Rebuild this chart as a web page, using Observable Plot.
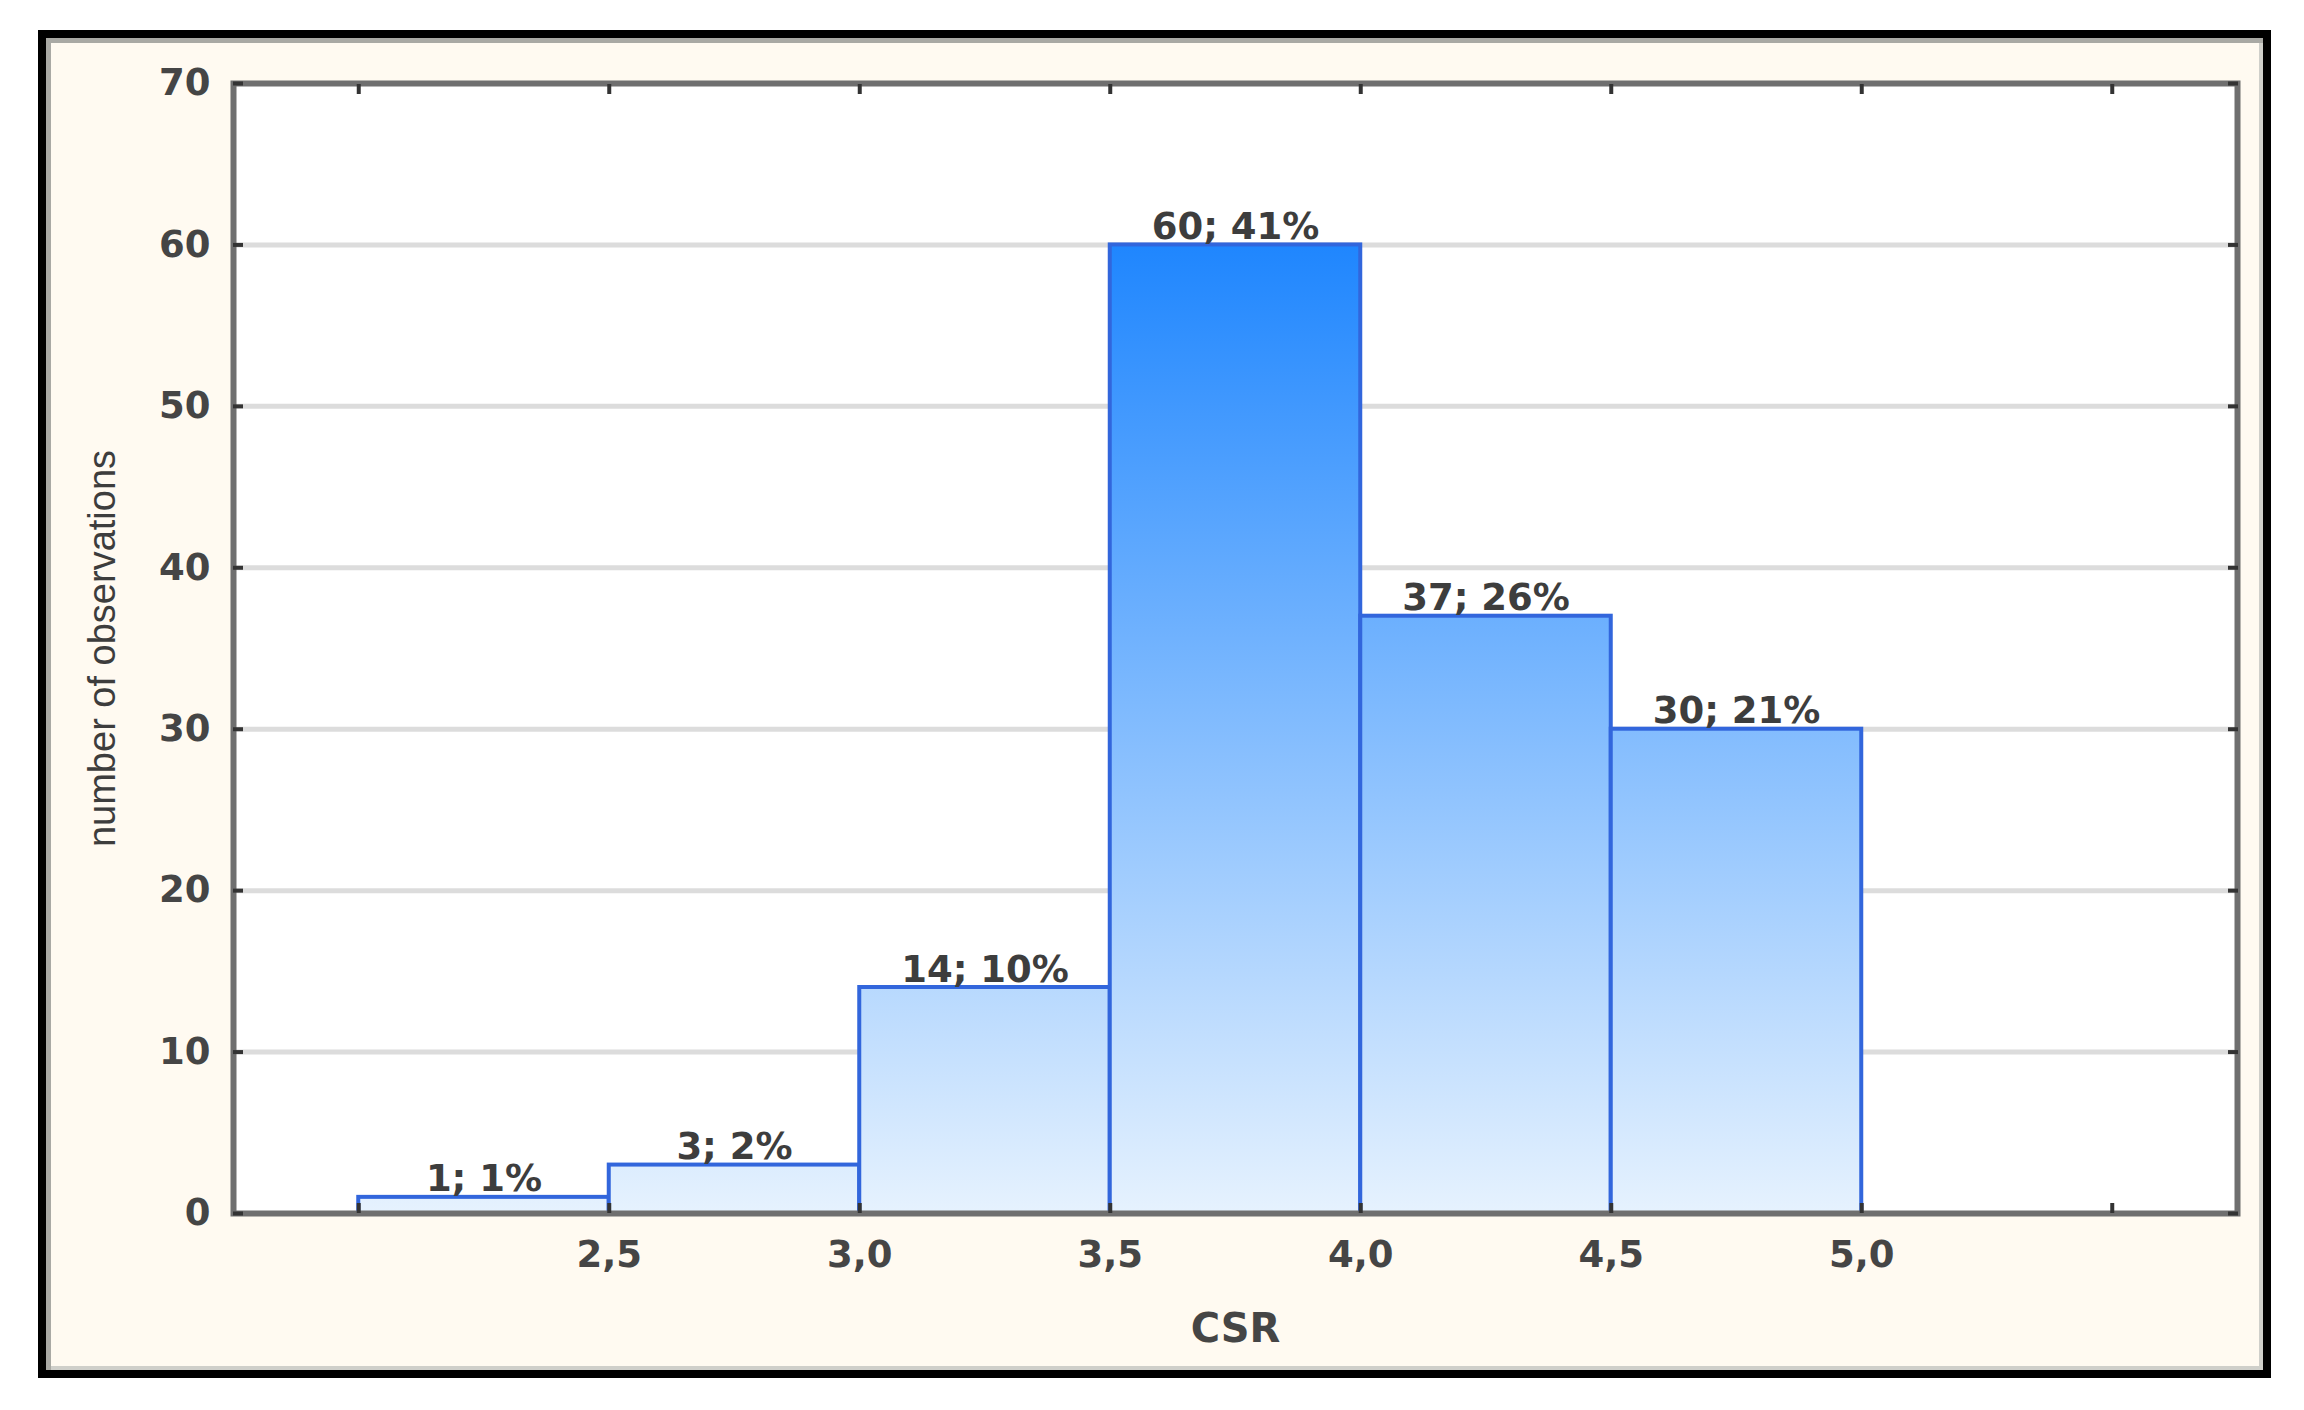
<!DOCTYPE html>
<html>
<head>
<meta charset="utf-8">
<script src="https://cdn.jsdelivr.net/npm/d3@7"></script>
<script src="https://cdn.jsdelivr.net/npm/@observablehq/plot@0.6"></script>
<style>
  html, body { margin: 0; padding: 0; background: #ffffff; width: 2304px; height: 1410px; overflow: hidden; }
  #panel {
    position: absolute; left: 38px; top: 30px; width: 2233px; height: 1348px;
    box-sizing: border-box; border: 8px solid #000;
    background: #fffaf1;
    box-shadow: inset 5px 5px 0 0 #a9a9a4, inset -4px -4px 0 0 #cfcfca;
  }
  #chart { position: absolute; left: 0; top: 0; }
</style>
</head>
<body>
<div id="panel"></div>
<div id="chart"></div>
<script>
// ---- data ----
const binStart = [2.0, 2.5, 3.0, 3.5, 4.0, 4.5];
const binEnd   = [2.5, 3.0, 3.5, 4.0, 4.5, 5.0];
const counts   = [1, 3, 14, 60, 37, 30];
const barLabels = ["1; 1%", "3; 2%", "14; 10%", "60; 41%", "37; 26%", "30; 21%"];
const xTickLabels = [2.5, 3.0, 3.5, 4.0, 4.5, 5.0];
const xTickMarks  = [2.0, 2.5, 3.0, 3.5, 4.0, 4.5, 5.0, 5.5];
const yTicks = [0, 10, 20, 30, 40, 50, 60, 70];
const xTitle = "CSR";
const yTitle = "number of observations";

const bars = binStart.map((s, i) => ({x1: s, x2: binEnd[i], count: counts[i], label: barLabels[i]}));
const fmt = d => d.toFixed(1).replace(".", ",");
const FONT = "DejaVu Sans";

const chart = Plot.plot({
  width: 2304,
  height: 1410,
  marginLeft: 233,
  marginRight: 67,
  marginTop: 83,
  marginBottom: 197,
  style: {background: "transparent", fontFamily: FONT},
  x: {domain: [1.75, 5.75]},
  y: {domain: [0, 70]},
  marks: [
    Plot.frame({fill: "#ffffff", stroke: null}),
    Plot.gridY(yTicks.slice(1, -1), {stroke: "#dcdcdc", strokeOpacity: 1, strokeWidth: 5}),
    Plot.rectY(bars, {x1: "x1", x2: "x2", y: "count", fill: "url(#csrGrad)", stroke: "#3266dc", strokeWidth: 4}),
    Plot.text(bars, {x: d => (d.x1 + d.x2) / 2, y: "count", text: "label", lineAnchor: "bottom", dy: -6,
      fontSize: 37, fontWeight: "bold", fill: "#3d3d3d", fontFamily: FONT}),
    Plot.frame({stroke: "#6f6f6f", strokeWidth: 6}),
    // x axis labels
    Plot.axisX({anchor: "bottom", ticks: xTickLabels, tickSize: 0, tickPadding: 27, tickFormat: fmt,
      fontSize: 37, fontWeight: "bold", color: "#454545",
      label: xTitle, labelAnchor: "center", labelOffset: 128, labelArrow: "none"}),
    // inward tick marks
    Plot.axisX({anchor: "bottom", ticks: xTickMarks, tickSize: -10, strokeWidth: 4, stroke: "#333", tickFormat: () => "", label: null}),
    Plot.axisX({anchor: "top", ticks: xTickMarks, tickSize: -10, strokeWidth: 4, stroke: "#333", tickFormat: () => "", label: null}),
    // y axis labels
    Plot.axisY({anchor: "left", ticks: yTicks, tickSize: 0, tickPadding: 23,
      fontSize: 37, fontWeight: "bold", color: "#454545",
      label: yTitle, labelAnchor: "center", labelOffset: 145, labelArrow: "none"}),
    Plot.axisY({anchor: "left", ticks: yTicks, tickSize: -10, strokeWidth: 4, stroke: "#333", tickFormat: () => "", label: null}),
    Plot.axisY({anchor: "right", ticks: yTicks, tickSize: -10, strokeWidth: 4, stroke: "#333", tickFormat: () => "", label: null})
  ]
});

// gradient running over the plot height (value 60 = strong blue, 0 = pale)
const yScale = chart.scale("y");
const svg = d3.select(chart.tagName.toLowerCase() === "svg" ? chart : chart.querySelector("svg"));
const grad = svg.insert("defs", ":first-child").append("linearGradient")
  .attr("id", "csrGrad").attr("gradientUnits", "userSpaceOnUse")
  .attr("x1", 0).attr("x2", 0)
  .attr("y1", yScale.apply(60)).attr("y2", yScale.apply(0));
grad.append("stop").attr("offset", 0).attr("stop-color", "#1f86fe");
grad.append("stop").attr("offset", 1).attr("stop-color", "#e6f2fe");

// style axis titles
svg.selectAll("g[aria-label='x-axis label'] text, g[aria-label='x-axis label']")
  .attr("font-size", 40).attr("font-weight", "bold").attr("fill", "#454545");
svg.selectAll("g[aria-label='y-axis label']")
  .attr("font-size", 38).attr("font-weight", "normal").attr("fill", "#3d3d3d")
  .attr("font-family", "Liberation Sans");

document.getElementById("chart").appendChild(chart);
</script>
</body>
</html>
